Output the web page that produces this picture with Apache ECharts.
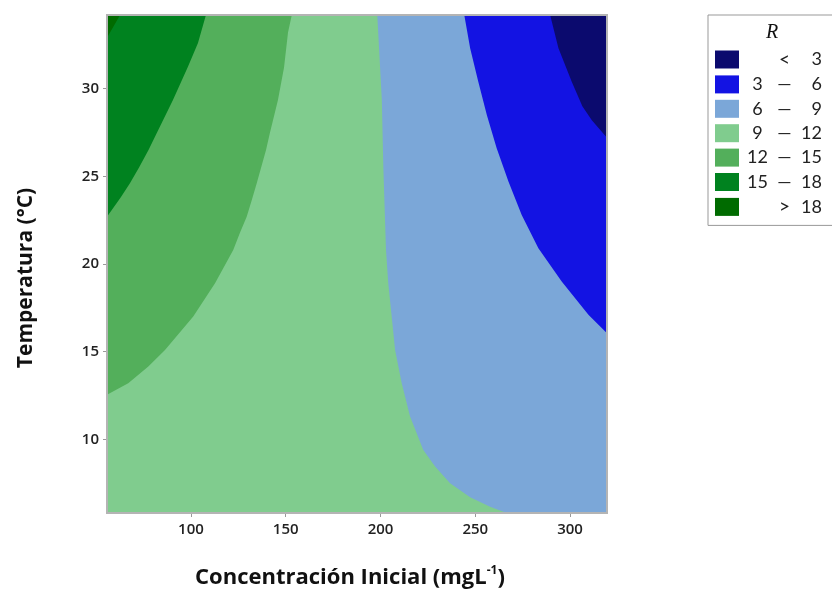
<!DOCTYPE html>
<html>
<head>
<meta charset="utf-8">
<script src="https://cdn.jsdelivr.net/npm/echarts@6/dist/echarts.min.js"></script>
<style>
  html, body { margin: 0; padding: 0; background: #fff; }
  #main { width: 832px; height: 590px; }
</style>
</head>
<body>
<div id="main"></div>
<script>
// axis limits and ticks
var xRange = [55.7, 319.5];
var yRange = [5.8, 34.2];
var xTicks = [100, 150, 200, 250, 300];
var yTicks = [10, 15, 20, 25, 30];

// legend classes, low to high
var classNames = ['< 3', '3 — 6', '6 — 9', '9 — 12', '12 — 15', '15 — 18', '> 18'];
var classColors = ['#0b0a6e', '#1313e3', '#7ba7d8', '#80cc8e', '#53af5b', '#00821f', '#006b00'];

// contour lines [concentracion, temperatura], top edge first
var contour3 = [[289.5, 34.2], [293.9, 32.3], [300.9, 30.4], [306.5, 29.0], [311.5, 28.2], [319.5, 27.2]];
var contour6 = [[244.2, 34.2], [247.3, 32.3], [251.6, 30.4], [256.1, 28.5], [261.3, 26.6], [267.5, 24.7],
  [274.5, 22.8], [283.3, 20.9], [295.6, 19.0], [309.7, 17.1], [319.5, 16.05]];
var contour9 = [[198.3, 34.2], [200.7, 29.35], [201.5, 25.5], [202.9, 20.8], [204.1, 18.9], [205.9, 17.0],
  [207.7, 15.1], [211.2, 13.2], [215.6, 11.3], [219.1, 10.35], [222.5, 9.4], [228.8, 8.45],
  [236.7, 7.5], [247.3, 6.7], [257.8, 6.15], [266.6, 5.8]];
var contour12 = [[153.2, 34.2], [151.2, 33.2], [149.1, 31.2], [145.9, 29.35], [141.7, 27.5], [139.6, 26.5],
  [134.7, 24.6], [132.1, 23.65], [129.4, 22.7], [125.9, 21.8], [122.3, 20.8], [112.7, 18.9],
  [101.2, 17.0], [86.3, 15.1], [77.5, 14.15], [66.9, 13.2], [55.7, 12.55]];
var contour15 = [[107.9, 34.2], [103.7, 32.6], [98.4, 31.25], [90.5, 29.35], [82.1, 27.5], [77.6, 26.5],
  [72.6, 25.5], [67.8, 24.6], [63.0, 23.8], [55.7, 22.7]];
var contour18 = [[62.6, 34.2], [55.7, 32.9]];

var contours = [null, contour3, contour6, contour9, contour12, contour15, contour18];

// polygon of everything left of / above a contour line
function regionOf(line) {
  var x0 = xRange[0], x1 = xRange[1], y0 = yRange[0], y1 = yRange[1];
  if (!line) return [[x0, y1], [x1, y1], [x1, y0], [x0, y0]];
  var pts = [[x0, y1]].concat(line);
  var last = line[line.length - 1];
  if (last[0] >= x1 - 0.01) pts.push([x1, y0]);
  pts.push([x0, y0]);
  return pts;
}

var series = classNames.map(function (name, i) {
  var poly = regionOf(contours[i]);
  return {
    name: name,
    type: 'custom',
    clip: true,
    itemStyle: { color: classColors[i] },
    data: [[xRange[0], yRange[0]]],
    renderItem: function (params, api) {
      var p = poly.map(function (d) { return api.coord(d); });
      return { type: 'polygon', shape: { points: p }, style: { fill: api.visual('color') } };
    }
  };
});

var tickFont = { fontFamily: 'Open Sans', fontWeight: 600, fontSize: 15, color: '#222' };

var myChart = echarts.init(document.getElementById('main'));
var option = {
  animation: false,
  grid: {
    left: 107, right: 225, top: 15, bottom: 77,
    outerBoundsMode: 'none',
    show: true, borderColor: '#b4b4b4', borderWidth: 2, z: 5
  },
  xAxis: {
    type: 'value',
    min: xRange[0], max: xRange[1],
    name: 'Concentración Inicial (mgL{sup|-1})',
    nameLocation: 'middle',
    nameGap: 52,
    nameTextStyle: {
      fontFamily: 'Open Sans', fontWeight: 'bold', fontSize: 22, color: '#111',
      padding: [0, 14, 0, 0],
      rich: { sup: { fontFamily: 'Open Sans', fontWeight: 'bold', fontSize: 12, verticalAlign: 'top', padding: [0, 0, 14, 0] } }
    },
    splitLine: { show: false },
    axisLine: { show: true, lineStyle: { color: '#b4b4b4', width: 2 } },
    axisTick: { show: true, length: 4, customValues: xTicks, lineStyle: { color: '#999' } },
    axisLabel: Object.assign({ customValues: xTicks, margin: 9 }, tickFont)
  },
  yAxis: {
    type: 'value',
    min: yRange[0], max: yRange[1],
    name: 'Temperatura (°C)',
    nameLocation: 'middle',
    nameGap: 70,
    nameTextStyle: {
      fontFamily: 'Open Sans', fontWeight: 'bold', fontSize: 21, color: '#111',
      padding: [0, 28, 0, 0]
    },
    splitLine: { show: false },
    axisLine: { show: true, lineStyle: { color: '#b4b4b4', width: 2 } },
    axisTick: { show: true, length: 4, customValues: yTicks, lineStyle: { color: '#999' } },
    axisLabel: Object.assign({ customValues: yTicks, margin: 8 }, tickFont)
  },
  legend: {
    orient: 'vertical',
    left: 708, top: 15,
    padding: [35, 30, 9, 7],
    borderColor: '#999', borderWidth: 1,
    itemWidth: 24, itemHeight: 18, itemGap: 6.4,
    icon: 'rect',
    selectedMode: false,
    data: classNames.slice(),
    formatter: function (name) {
      var p = name.split(' ');
      if (p.length === 3) return '{a|' + p[0] + '}{d|' + p[1] + '}{c|' + p[2] + '}';
      return '{a|}{b|' + p[0] + '}{c|' + p[1] + '}';
    },
    textStyle: {
      fontFamily: 'Lato', fontSize: 18, color: '#222', lineHeight: 18,
      rich: {
        a: { width: 27, align: 'right', fontFamily: 'Lato', fontSize: 18, lineHeight: 18 },
        b: { width: 27, align: 'center', fontFamily: 'Lato', fontSize: 19, lineHeight: 18 },
        d: { width: 27, align: 'center', fontFamily: 'Lato', fontSize: 18, lineHeight: 18 },
        c: { width: 24, align: 'right', fontFamily: 'Lato', fontSize: 18, lineHeight: 18 }
      }
    }
  },
  graphic: [{
    type: 'text', left: 766, top: 23,
    style: { text: 'R', fontFamily: 'Liberation Serif', fontStyle: 'italic', fontSize: 20, fill: '#111' }
  }],
  series: series
};
myChart.setOption(option);
</script>
</body>
</html>
